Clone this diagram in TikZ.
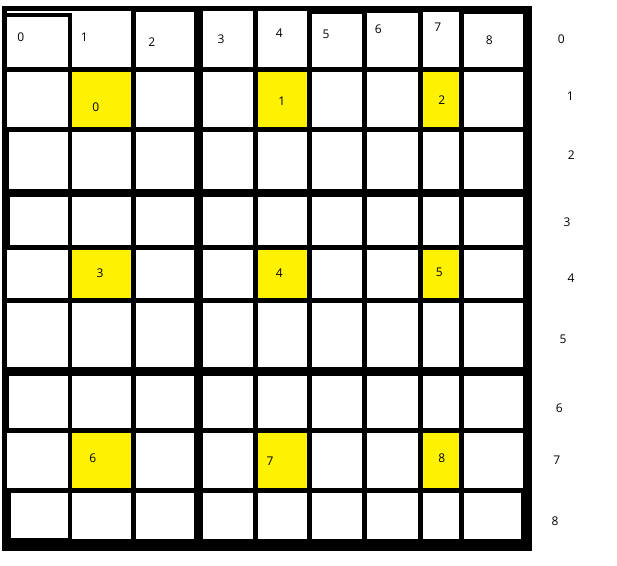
\documentclass[tikz,border=0pt]{standalone}
\usepackage{fontspec}
\setmainfont{Open Sans}
\definecolor{pyellow}{RGB}{255,242,0}
\tikzset{
  gridbg/.style={fill=black},
  cell/.style={fill=white},
  markcell/.style={fill=pyellow},
  lbl/.style={inner sep=0pt, text=black, font=\fontsize{12}{13}\selectfont}
}
\begin{document}
\begin{tikzpicture}[x=1pt,y=-1pt]
\useasboundingbox (0,0) rectangle (617,565);
% black frame and lines
\fill[gridbg] (1.7,6) rectangle (531.7,551);
% row 0
\fill[cell] (6.7,11) rectangle (71.7,13.3);
\fill[cell] (6.7,17.3) rectangle (67.7,66.7);
\foreach \l/\r/\t in {71.7/131/11, 136/194/12, 203/253.3/11, 257.7/306.7/11, 312/361.7/14, 366.7/418.3/12.7, 422.7/459/12, 464/522.7/14}
  \fill[cell] (\l,\t) rectangle (\r,66.7);
% rows 1-7
\foreach \t/\b/\lz in {71.7/126.7/6.7, 131.7/189/9, 196.7/245/10, 250/298.3/6.7, 303.3/366.7/6.7, 376/427.7/9, 432.7/487.7/6.7}{
  \fill[cell] (\lz,\t) rectangle (67.7,\b);
  \foreach \l/\r in {71.7/131, 136/194, 203/253.3, 257.7/306.7, 312/361.7, 366.7/418.3, 422.7/459, 464/522.7}
    \fill[cell] (\l,\t) rectangle (\r,\b);
}
% row 8
\fill[cell] (11,492.7) rectangle (67.7,537.7);
\foreach \l/\r in {71.7/131, 136/194, 203/253.3, 257.7/306.7, 312/361.7, 366.7/418.3, 422.7/459, 464/521}
  \fill[cell] (\l,492.7) rectangle (\r,539);
% yellow cells
\foreach \t/\b in {71.7/126.7, 250/298.3, 432.7/487.7}
  \foreach \l/\r in {71.7/131, 257.7/306.7, 422.7/459}
    \fill[markcell] (\l,\t) rectangle (\r,\b);
% column labels
\node[lbl] (c0) at (20.7,37.3) {0};
\node[lbl] (c1) at (84.3,37.7) {1};
\node[lbl] (c2) at (151.7,41.7) {2};
\node[lbl] (c3) at (221,39) {3};
\node[lbl] (c4) at (279.3,33.3) {4};
\node[lbl] (c5) at (326,34.3) {5};
\node[lbl] (c6) at (378.3,29.3) {6};
\node[lbl] (c7) at (437.7,27.3) {7};
\node[lbl] (c8) at (489.3,40.3) {8};
% row labels
\node[lbl] (r0) at (561.3,39.3) {0};
\node[lbl] (r1) at (570.3,96.3) {1};
\node[lbl] (r2) at (571.3,155.3) {2};
\node[lbl] (r3) at (567,222.3) {3};
\node[lbl] (r4) at (571,277.7) {4};
\node[lbl] (r5) at (563,339.7) {5};
\node[lbl] (r6) at (559.3,408.3) {6};
\node[lbl] (r7) at (556.7,460.3) {7};
\node[lbl] (r8) at (555,521.7) {8};
% block labels
\node[lbl] (b0) at (95.7,107.3) {0};
\node[lbl] (b1) at (281.7,101.3) {1};
\node[lbl] (b2) at (441.7,100) {2};
\node[lbl] (b3) at (100,273.3) {3};
\node[lbl] (b4) at (279.3,273.3) {4};
\node[lbl] (b5) at (439.3,272) {5};
\node[lbl] (b6) at (92.7,458.3) {6};
\node[lbl] (b7) at (270,461) {7};
\node[lbl] (b8) at (441.7,458.3) {8};
\end{tikzpicture}
\end{document}
